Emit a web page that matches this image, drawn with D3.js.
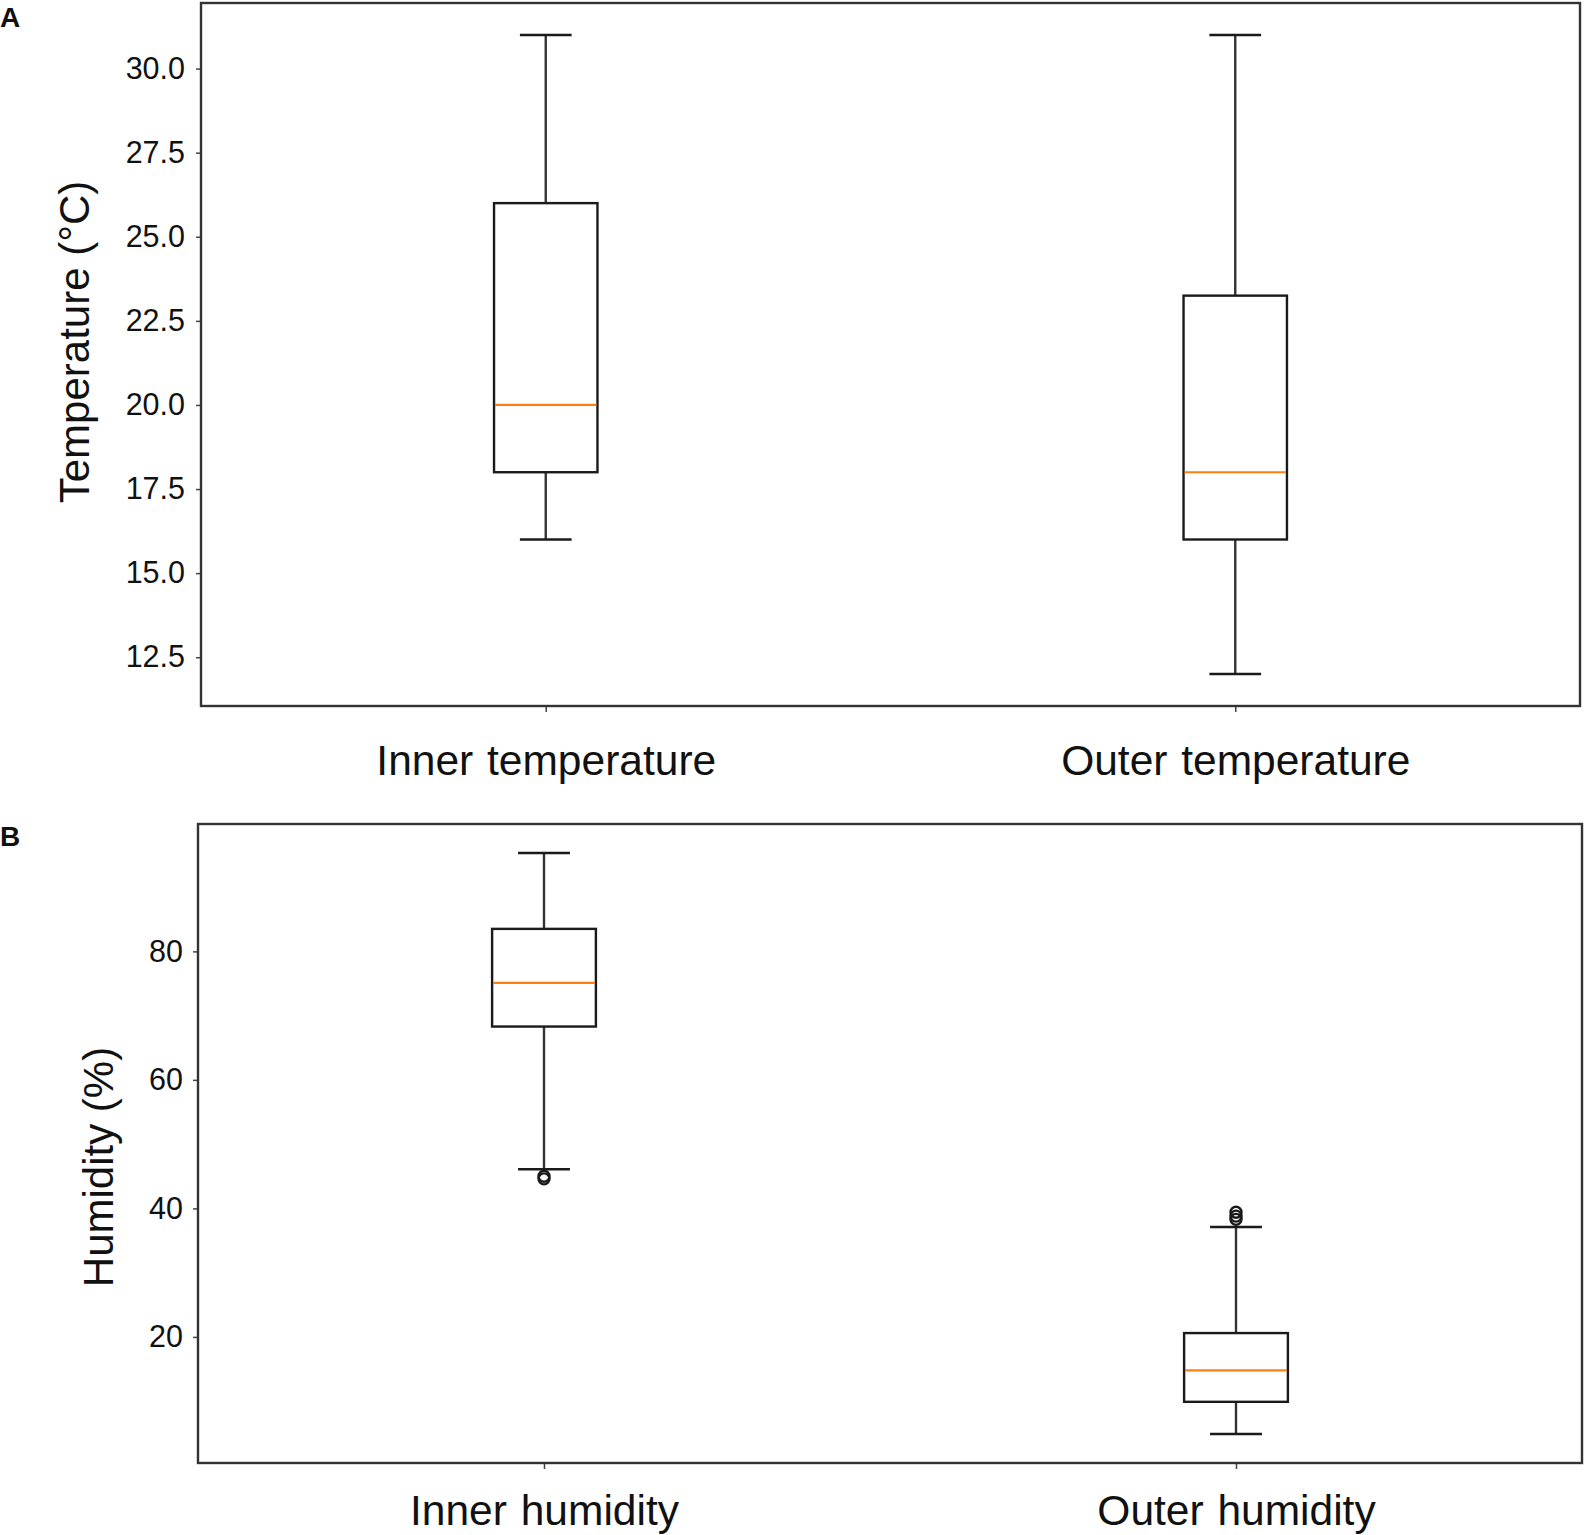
<!DOCTYPE html>
<html>
<head>
<meta charset="utf-8">
<script src="https://cdn.jsdelivr.net/npm/d3@7"></script>
<style>
  body { margin: 0; background: #fff; }
  svg text { font-family: "Liberation Sans", Arial, sans-serif; fill: #111; }
</style>
</head>
<body>
<svg id="chart" width="1588" height="1535"></svg>
<script>
// panel A : temperature
const tempCategories = ["Inner temperature", "Outer temperature"];
const tempWhiskerLow = [16, 12];
const tempQ1 = [18, 16];
const tempMedian = [20, 18];
const tempQ3 = [26, 23.25];
const tempWhiskerHigh = [31, 31];
const tempOutliers = [[], []];
const tempTicks = [12.5, 15, 17.5, 20, 22.5, 25, 27.5, 30];

// panel B : humidity
const humCategories = ["Inner humidity", "Outer humidity"];
const humWhiskerLow = [46.1, 4.9];
const humQ1 = [68.3, 9.9];
const humMedian = [75.1, 14.8];
const humQ3 = [83.5, 20.6];
const humWhiskerHigh = [95.3, 37.1];
const humOutliers = [[45.0, 44.6], [39.4, 38.8, 38.3]];
const humTicks = [20, 40, 60, 80];

const svg = d3.select("#chart");

function drawPanel(opt) {
  const g = svg.append("g");
  const boxes = opt.cats.map((c, i) => ({
    cat: c, lo: opt.lo[i], q1: opt.q1[i], med: opt.med[i],
    q3: opt.q3[i], hi: opt.hi[i], out: opt.out[i]
  }));

  // matplotlib-style 5% padding on the data range
  const allVals = boxes.flatMap(b => [b.lo, b.hi].concat(b.out));
  const mn = d3.min(allVals), mx = d3.max(allVals);
  const pad = (mx - mn) * 0.05;

  const x = d3.scalePoint().domain(opt.cats).range([opt.left, opt.right]).padding(0.5);
  const y = d3.scaleLinear().domain([mn - pad, mx + pad]).range([opt.bottom, opt.top]);
  const bw = x.step() * 0.15;

  // axes
  const ya = g.append("g").attr("transform", "translate(" + opt.left + ",0)")
    .call(d3.axisLeft(y).tickValues(opt.ticks).tickFormat(d3.format(opt.fmt)).tickSize(5).tickPadding(opt.yPad));
  ya.select(".domain").remove();
  ya.selectAll("line").attr("stroke", "#444").attr("stroke-width", 1.5);
  ya.selectAll("text").attr("font-size", 30.5).attr("fill", "#111");

  const xa = g.append("g").attr("transform", "translate(0," + opt.bottom + ")")
    .call(d3.axisBottom(x).tickSize(6).tickPadding(opt.xPad));
  xa.select(".domain").remove();
  xa.selectAll("line").attr("stroke", "#444").attr("stroke-width", 1.5);
  xa.selectAll("text").attr("font-size", 42.5).attr("word-spacing", 2).attr("fill", "#111");

  // frame
  g.append("rect")
    .attr("x", opt.left).attr("y", opt.top)
    .attr("width", opt.right - opt.left).attr("height", opt.bottom - opt.top)
    .attr("fill", "none").attr("stroke", "#333").attr("stroke-width", 2.4);

  const bx = g.selectAll(".box").data(boxes).enter().append("g").attr("class", "box");
  const line = "#1a1a1a", sw = 2.4;

  // whiskers
  bx.append("line")
    .attr("x1", d => x(d.cat)).attr("x2", d => x(d.cat))
    .attr("y1", d => y(d.q3)).attr("y2", d => y(d.hi))
    .attr("stroke", "#333").attr("stroke-width", sw);
  bx.append("line")
    .attr("x1", d => x(d.cat)).attr("x2", d => x(d.cat))
    .attr("y1", d => y(d.q1)).attr("y2", d => y(d.lo))
    .attr("stroke", "#333").attr("stroke-width", sw);
  // caps
  bx.append("line")
    .attr("x1", d => x(d.cat) - bw / 4).attr("x2", d => x(d.cat) + bw / 4)
    .attr("y1", d => y(d.hi)).attr("y2", d => y(d.hi))
    .attr("stroke", line).attr("stroke-width", sw);
  bx.append("line")
    .attr("x1", d => x(d.cat) - bw / 4).attr("x2", d => x(d.cat) + bw / 4)
    .attr("y1", d => y(d.lo)).attr("y2", d => y(d.lo))
    .attr("stroke", line).attr("stroke-width", sw);
  // box
  bx.append("rect")
    .attr("x", d => x(d.cat) - bw / 2).attr("width", bw)
    .attr("y", d => y(d.q3)).attr("height", d => y(d.q1) - y(d.q3))
    .attr("fill", "none").attr("stroke", line).attr("stroke-width", sw);
  // median
  bx.append("line")
    .attr("x1", d => x(d.cat) - bw / 2 + 1).attr("x2", d => x(d.cat) + bw / 2 - 1)
    .attr("y1", d => y(d.med)).attr("y2", d => y(d.med))
    .attr("stroke", "#ff7f0e").attr("stroke-width", 2.2);
  // fliers
  bx.selectAll("circle").data(d => d.out.map(v => ({ cat: d.cat, v: v }))).enter().append("circle")
    .attr("cx", d => x(d.cat)).attr("cy", d => y(d.v)).attr("r", 5.5)
    .attr("fill", "none").attr("stroke", line).attr("stroke-width", 2.4);

  // y label
  g.append("text")
    .attr("transform", "translate(" + opt.yLabelX + "," + opt.yLabelY + ") rotate(-90)")
    .attr("text-anchor", "middle").attr("dy", "0.35em")
    .attr("font-size", 42).text(opt.yLabel);

  // panel letter
  g.append("text").attr("x", 0).attr("y", opt.letterY)
    .attr("font-size", 28).attr("font-weight", "bold").text(opt.letter);
}

drawPanel({
  cats: tempCategories, lo: tempWhiskerLow, q1: tempQ1, med: tempMedian,
  q3: tempQ3, hi: tempWhiskerHigh, out: tempOutliers, ticks: tempTicks, fmt: ".1f",
  left: 201, right: 1580, top: 3, bottom: 706, xPad: 33, yPad: 11,
  yLabel: "Temperature (°C)", yLabelX: 74, yLabelY: 342, letter: "A", letterY: 27
});

drawPanel({
  cats: humCategories, lo: humWhiskerLow, q1: humQ1, med: humMedian,
  q3: humQ3, hi: humWhiskerHigh, out: humOutliers, ticks: humTicks, fmt: "d",
  left: 198, right: 1582, top: 824, bottom: 1463, xPad: 26, yPad: 10,
  yLabel: "Humidity (%)", yLabelX: 98, yLabelY: 1167, letter: "B", letterY: 846
});
</script>
</body>
</html>
